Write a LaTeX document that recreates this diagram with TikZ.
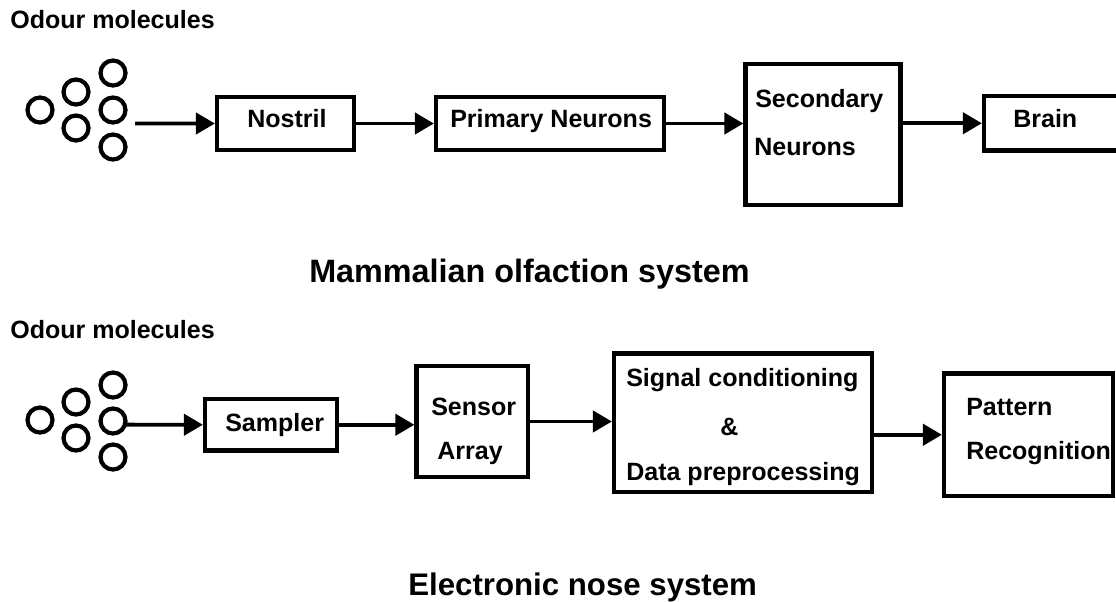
\documentclass[tikz,border=0pt]{standalone}
\usepackage{fontspec}
\setmainfont{Liberation Sans}
\usetikzlibrary{arrows.meta, fit}

\tikzset{
    box/.style = {draw, rectangle, line width=3pt, inner sep=0pt},
    txt/.style = {inner sep=0pt, anchor=base west, font=\fontsize{17.8pt}{20pt}\selectfont\bfseries},
    caption/.style = {inner sep=0pt, anchor=base west, font=\fontsize{23pt}{26pt}\selectfont\bfseries},
    arr/.style = {line width=2.8pt, -{Triangle[length=13.5pt, width=15pt]}},
    molecule/.style = {line width=3pt}
}

\begin{document}
\begin{tikzpicture}[x=0.025cm, y=-0.025cm]
    \useasboundingbox (0,0) rectangle (1116,601);

    % Mammalian olfaction system
    \node[txt] (odourA) at (10,28) {Odour molecules};
    \foreach \Point in {(40,110), (76,92), (76,128), (113,73), (113,110), (113,147)}{
        \draw[molecule] \Point circle[radius=12.5];
    }
    \coordinate (srcA) at (135,123.5);

    % Draw the blocks
    \node[box, fit={(217,97) (354,150)}] (nostril) {};
    \node[box, fit={(436,97) (664,150)}] (primary) {};
    \node[box, fit={(745.5,64) (900.5,205)}] (secondary) {};
    \node[box, fit={(984,96) (1135,150.5)}] (brain) {};

    \node[txt] (nostrilT) at (247,127) {Nostril};
    \node[txt] (primaryT) at (450,127) {Primary Neurons};
    \node[txt] (secondaryT) at (755,107) {Secondary};
    \node[txt] (secondaryB) at (754,155) {Neurons};
    \node[txt] (brainT) at (1013,127) {Brain};

    % Draw the arrows
    \draw[arr] (srcA) -- (nostril.west);
    \draw[arr] (nostril) -- (primary);
    \draw[arr] (primary.east) -- (primary.east -| secondary.west);
    \draw[arr] (secondary.east |- brain.west) -- (brain.west);

    \node[caption] (titleA) at (309,282) {Mammalian olfaction system};

    % Electronic nose system
    \node[txt] (odourB) at (10,338) {Odour molecules};
    \foreach \Point in {(40,420), (76,402), (76,438), (113,385), (113,421), (113,457)}{
        \draw[molecule] \Point circle[radius=12.5];
    }
    \coordinate (srcB) at (125,424.7);

    % Draw the blocks
    \node[box, fit={(205,399) (337,450.5)}] (sampler) {};
    \node[box, fit={(416.5,366) (528,477)}] (sensor) {};
    \node[box, fit={(614,353.5) (872,492)}] (signal) {};
    \node[box, fit={(944,373.5) (1113,496)}] (pattern) {};

    \node[txt] (samplerT) at (225,431) {Sampler};
    \node[txt] (sensorT) at (431,415) {Sensor};
    \node[txt] (sensorB) at (437,459) {Array};
    \node[txt] (signalT) at (626,386) {Signal conditioning};
    \node[txt] (signalM) at (720,435.5) {\&};
    \node[txt] (signalB) at (626,480) {Data preprocessing};
    \node[txt] (patternT) at (966,415) {Pattern};
    \node[txt] (patternB) at (966,459) {Recognition};

    % Draw the arrows
    \draw[arr] (srcB) -- (sampler.west);
    \draw[arr] (sampler.east) -- (sampler.east -| sensor.west);
    \draw[arr] (sensor.east) -- (sensor.east -| signal.west);
    \draw[arr] (signal.east |- pattern.west) -- (pattern.west);

    \node[caption, font=\fontsize{22.2pt}{25pt}\selectfont\bfseries] (titleB) at (408,595) {Electronic nose system};

\end{tikzpicture}
\end{document}
